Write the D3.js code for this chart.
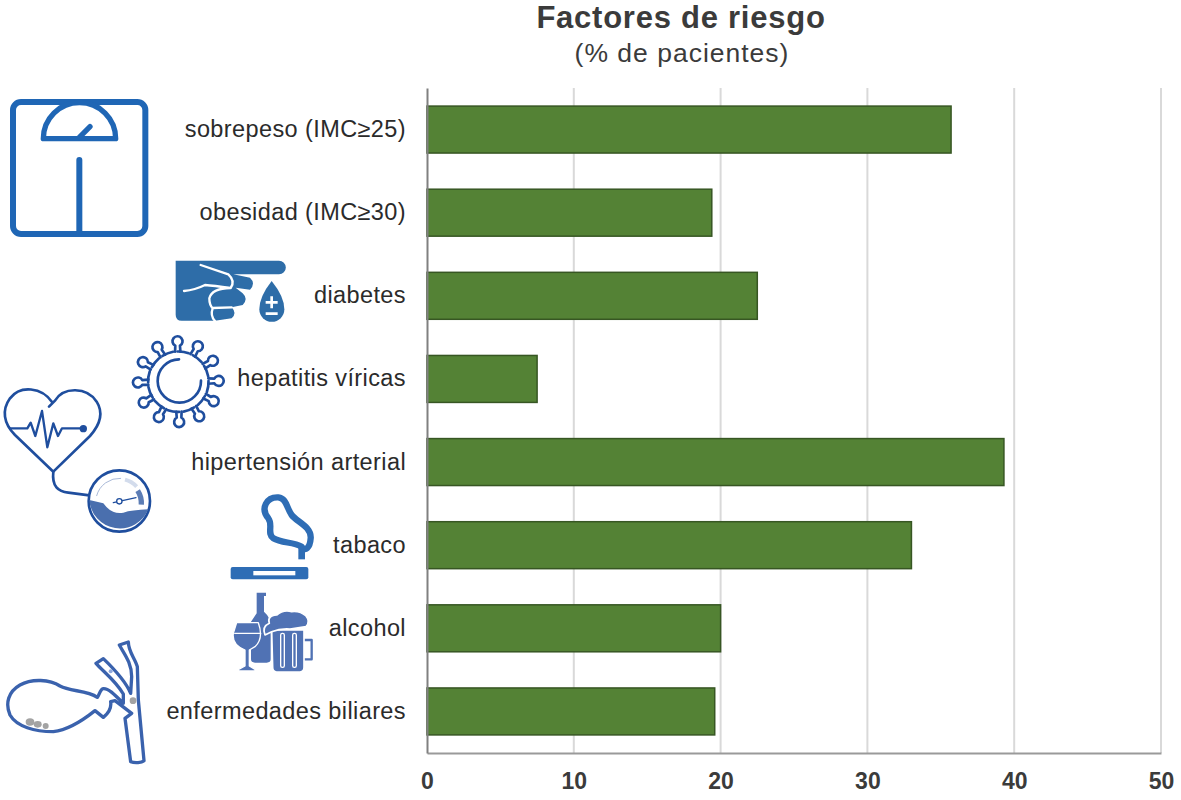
<!DOCTYPE html>
<html>
<head>
<meta charset="utf-8">
<script src="https://cdn.jsdelivr.net/npm/d3@7"></script>
<style>
  html, body { margin: 0; padding: 0; background: #fff; }
  svg { display: block; }
  text { font-family: "Liberation Sans", Arial, sans-serif; }
</style>
</head>
<body>
<svg id="chart" width="1181" height="800"></svg>
<script>
// data
const categories = ["sobrepeso (IMC≥25)", "obesidad (IMC≥30)", "diabetes", "hepatitis víricas",
  "hipertensión arterial", "tabaco", "alcohol", "enfermedades biliares"];
const values = [35.7, 19.4, 22.5, 7.5, 39.3, 33.0, 20.0, 19.6];
const xTicks = [0, 10, 20, 30, 40, 50];

const svg = d3.select("#chart");
const left = 427, right = 1161, top_ = 88, bottom = 753;

const x = d3.scaleLinear().domain([0, 50]).range([left, right]);
const y = d3.scaleBand().domain(categories).range([top_, bottom]).paddingInner(0.435).paddingOuter(0.2175);

// title
svg.append("text").attr("x", 681).attr("y", 28).attr("text-anchor", "middle")
  .attr("font-size", 31).attr("font-weight", "bold").attr("letter-spacing", 0.75)
  .attr("fill", "#3b3b3b").text("Factores de riesgo");
svg.append("text").attr("x", 682).attr("y", 62).attr("text-anchor", "middle")
  .attr("font-size", 26.5).attr("letter-spacing", 1).attr("fill", "#3b3b3b").text("(% de pacientes)");

// grid
svg.append("g").selectAll("line").data(xTicks.slice(1)).enter().append("line")
  .attr("x1", d => x(d)).attr("x2", d => x(d))
  .attr("y1", top_).attr("y2", bottom)
  .attr("stroke", "#d9d9d9").attr("stroke-width", 2);

// bars
svg.append("g").selectAll("rect").data(values).enter().append("rect")
  .attr("x", x(0))
  .attr("y", (d, i) => y(categories[i]))
  .attr("width", d => x(d) - x(0))
  .attr("height", y.bandwidth())
  .attr("fill", "#548235")
  .attr("stroke", "#375623")
  .attr("stroke-width", 1.5);

// axes
const xAxis = svg.append("g").attr("transform", `translate(0,${bottom})`)
  .call(d3.axisBottom(x).tickValues(xTicks).tickSize(0).tickPadding(20));
xAxis.select(".domain").attr("stroke", "#9a9a9a").attr("stroke-width", 2);
xAxis.selectAll("text").attr("font-size", 23).attr("font-weight", "bold").attr("fill", "#3b3b3b")
  .style("font-family", '"Liberation Sans", Arial, sans-serif');

const yAxis = svg.append("g").attr("transform", `translate(${left},0)`)
  .call(d3.axisLeft(y).tickSize(0).tickPadding(21));
yAxis.select(".domain").attr("stroke", "#808080").attr("stroke-width", 2);
yAxis.selectAll("text").attr("font-size", 23.5).attr("letter-spacing", 0.4).attr("fill", "#2b2b2b")
  .style("font-family", '"Liberation Sans", Arial, sans-serif');

// icons, paths in the 3x zoom coordinates of each crop
function icon(ox, oy) {
  return svg.append("g").attr("transform", `translate(${ox},${oy}) scale(${1 / 3})`)
    .attr("fill", "none").attr("stroke-linecap", "round").attr("stroke-linejoin", "round");
}

// bathroom scale
const scale = icon(0, 80).attr("stroke", "#1f66b5").attr("stroke-width", 18);
scale.append("rect").attr("x", 39).attr("y", 66).attr("width", 397).attr("height", 396).attr("rx", 24);
scale.append("path").attr("d", "M130,176 A108,108 0 0 1 347,176 Z").attr("stroke-width", 16);
scale.append("path").attr("d", "M238,172 L270,140").attr("stroke-width", 16);
scale.append("path").attr("d", "M238,240 V455").attr("stroke-width", 18);

// finger prick
const hand = icon(170, 255);
hand.append("path").attr("fill", "#2e6da8")
  .attr("d", "M17,17 H327 A20.5,20.5 0 0 1 327,58 H190 L240,68 Q258,85 240,104 L197,98 L218,115 Q236,132 218,150 L185,157 Q202,175 185,190 L135,197 H35 Q17,197 17,179 Z");
hand.append("path").attr("stroke", "#fff").attr("stroke-width", 7)
  .attr("d", "M92,30 L175,58 Q197,78 182,99 Q130,92 105,90 Q75,105 42,108 M182,99 Q125,100 118,130 Q118,150 128,160 Q120,182 135,198 M128,159 L185,157");
hand.append("path").attr("fill", "#2e6da8")
  .attr("d", "M305,78 Q343,125 343,163 A37,37 0 0 1 268,163 Q268,125 305,78 Z");
hand.append("path").attr("stroke", "#fff").attr("stroke-width", 8).attr("stroke-linecap", "butt")
  .attr("d", "M287,142 H323 M305,124 V160 M287,176 H323");

// virus
const virus = icon(0, 330).attr("stroke", "#1f4e9e").attr("stroke-width", 8);
virus.append("path").attr("d", "M537,88 A65,65 0 1 0 603,152");
const cx = 535, cy = 155;
d3.range(12).forEach(i => {
  const a = i * Math.PI / 6 + Math.PI / 2 - 0.02;
  const g = virus.append("g").attr("transform", `translate(${cx},${cy}) rotate(${a * 180 / Math.PI})`);
  g.append("path").attr("d", "M90,-14 A90,90 0 0 0 78,-46");
  g.append("path").attr("d", "M90,-8 L108,-7 A15,15 0 1 1 108,7 L90,8");
});

// heart and blood pressure gauge
const heart = icon(0, 330).attr("stroke", "#1f4e9e").attr("stroke-width", 8);
heart.append("path").attr("d", "M147,230 L165,212 C190,170 260,170 290,215 C315,255 295,290 270,318 L160,425 L45,315 C10,280 5,240 30,205 C60,165 125,170 158,218");
heart.append("path").attr("stroke-width", 7).attr("d", "M30,295 H82 L92,278 L106,318 L126,243 L142,352 L160,280 L174,318 L186,295 H250");
heart.append("circle").attr("cx", 250).attr("cy", 296).attr("r", 7).attr("fill", "#1f4e9e");
heart.append("path").attr("d", "M160,425 C155,470 175,485 205,488 L268,496");
heart.append("circle").attr("cx", 358).attr("cy", 513).attr("r", 92).attr("fill", "#fff");
heart.append("path").attr("stroke", "none").attr("fill", "#4a6fae")
  .attr("d", "M268,510 L310,520 Q335,555 370,548 Q395,540 445,538 A92,92 0 0 1 268,510 Z");
heart.append("path").attr("stroke-width", 3).attr("stroke", "#a9b9d8").attr("d", "M290,497 A70,70 0 0 1 362,445");
heart.append("path").attr("stroke-width", 12).attr("stroke", "#d3dcec").attr("stroke-linecap", "butt").attr("d", "M375,449 A70,70 0 0 1 410,470");
heart.append("path").attr("stroke-width", 16).attr("stroke", "#5c7db5").attr("stroke-linecap", "butt").attr("d", "M413,482 A70,70 0 0 1 424,524");
heart.append("path").attr("stroke-width", 4).attr("d", "M340,518 L408,503");
heart.append("circle").attr("cx", 358).attr("cy", 514).attr("r", 8).attr("fill", "#fff").attr("stroke-width", 4);

// cigarette
const smoke = icon(0, 330);
smoke.append("path").attr("stroke", "#2e6db5").attr("stroke-width", 19)
  .attr("d", "M835,502 C860,505 860,535 875,555 C890,575 935,590 932,625 C930,655 915,665 905,650 C880,635 845,640 820,625 C800,610 820,585 805,565 C780,535 800,500 835,502 Z");
smoke.append("path").attr("stroke", "#2e6db5").attr("stroke-width", 20).attr("stroke-linecap", "butt").attr("d", "M905,650 V688");
smoke.append("rect").attr("x", 692).attr("y", 711).attr("width", 233).attr("height", 37).attr("rx", 6).attr("fill", "#2e6db5");
smoke.append("rect").attr("x", 760).attr("y", 723).attr("width", 126).attr("height", 13).attr("fill", "#fff");

// glass, bottle and beer mug
const drinks = icon(0, 580);
const dc = "#5072b4";
drinks.append("path").attr("fill", dc).attr("d", "M770,38 H798 V48 H792 V95 Q815,115 812,145 V238 Q812,248 800,248 H765 Q753,248 753,238 V125 L770,100 V48 Z");
drinks.append("path").attr("fill", dc).attr("stroke", "#fff").attr("stroke-width", 4)
  .attr("d", "M710,128 H775 Q792,175 765,200 L748,210 V258 L765,268 V273 H716 V268 L735,258 V210 Q695,195 700,160 Z");
drinks.append("path").attr("stroke", "#fff").attr("stroke-width", 4).attr("d", "M704,160 H782");
drinks.append("path").attr("stroke", dc).attr("stroke-width", 7).attr("stroke-linecap", "butt").attr("d", "M910,180 H935 V238 H910");
drinks.append("path").attr("fill", dc).attr("stroke", "#fff").attr("stroke-width", 5)
  .attr("d", "M815,150 H912 V262 Q912,276 900,276 H830 Q818,276 818,262 Z");
drinks.append("g").attr("stroke", "#fff").attr("stroke-width", 4).selectAll("rect")
  .data([842, 878]).enter().append("rect")
  .attr("x", d => d).attr("y", 160).attr("width", 11).attr("height", 102).attr("rx", 5);
drinks.append("path").attr("fill", dc).attr("stroke", "#fff").attr("stroke-width", 5)
  .attr("d", "M795,165 Q785,140 808,130 Q800,108 830,105 Q850,88 875,95 Q900,92 918,108 Q932,125 918,140 L870,147 Q840,145 815,155 Z");

// gallbladder and bile ducts
const gall = icon(0, 580).attr("stroke", "#3a62ad").attr("stroke-width", 10);
gall.append("path").attr("d", "M292,352 C260,330 210,335 180,318 C150,298 95,295 60,315 C25,335 15,370 30,405 C50,440 105,455 160,455 C205,450 250,420 285,392 L310,412 C325,400 335,385 332,365 L345,362 L395,400 L375,415 L392,545 C405,550 425,548 432,542 L415,360 L412,260 C405,235 385,215 385,186 L358,195 C375,225 395,250 395,290 L392,340 C375,300 335,260 310,236 L288,250 C310,275 345,300 370,342 L370,370 C340,340 325,325 310,326 C300,328 298,345 292,352 Z");
gall.append("g").attr("stroke", "none").attr("fill", "#a3a3a3").selectAll("ellipse")
  .data([[90, 426, 13, 11], [113, 433, 12, 10], [137, 438, 9, 9], [399, 362, 10, 10]])
  .enter().append("ellipse")
  .attr("cx", d => d[0]).attr("cy", d => d[1]).attr("rx", d => d[2]).attr("ry", d => d[3]);
gall.append("circle").attr("cx", 332).attr("cy", 274).attr("r", 6).attr("fill", "#8fa8dc").attr("stroke", "none");
</script>
</body>
</html>
